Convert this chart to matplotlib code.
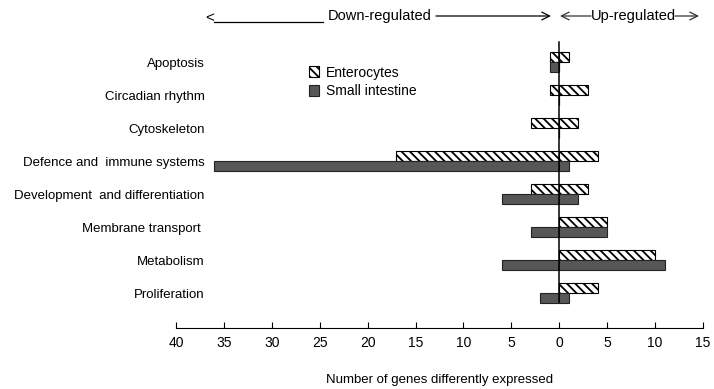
import numpy as np
import matplotlib
matplotlib.use("Agg")
import matplotlib.pyplot as plt
from matplotlib.patches import Patch
from matplotlib.lines import Line2D
from matplotlib.ticker import FuncFormatter

plt.rcParams['font.family'] = ['Liberation Sans', 'DejaVu Sans']
plt.rcParams['hatch.linewidth'] = 1.3

categories = ["Apoptosis", "Circadian rhythm", "Cytoskeleton",
              "Defence and  immune systems", "Development  and differentiation",
              "Membrane transport ", "Metabolism", "Proliferation"]
ent_down = [1, 1, 3, 17, 3, 0, 0, 0]
ent_up = [1, 3, 2, 4, 3, 5, 10, 4]
si_down = [1, 0, 0, 36, 6, 3, 6, 2]
si_up = [0, 0, 0, 1, 2, 5, 11, 1]
xticks = [-40, -35, -30, -25, -20, -15, -10, -5, 0, 5, 10, 15]

fig = plt.figure(figsize=(7.14, 3.89), dpi=100)
ax = fig.add_axes([176/714, 1 - 328/389, (703-176)/714, (328-40)/389])

y = np.arange(len(categories))
h = 0.29
dark = '#575757'
hatch = '\\\\\\\\'

# enterocytes (hatched, upper bar of each pair)
ax.barh(y - h/2, [-v for v in ent_down], height=h, color='white',
        edgecolor='black', hatch=hatch, linewidth=0.8)
ax.barh(y - h/2, ent_up, height=h, color='white',
        edgecolor='black', hatch=hatch, linewidth=0.8)
# small intestine (dark, lower bar)
ax.barh(y + h/2, [-v for v in si_down], height=h, color=dark,
        edgecolor='#222222', linewidth=0.8)
ax.barh(y + h/2, si_up, height=h, color=dark,
        edgecolor='#222222', linewidth=0.8)

ax.plot([0, 0], [-0.6, 7.27], color='black', lw=1.1)

ax.set_xlim(-40, 15)
ax.set_ylim(8.06, -0.667)
ax.set_xticks(xticks)
ax.xaxis.set_major_formatter(FuncFormatter(lambda v, p: f"{abs(int(v))}"))
ax.tick_params(axis='x', direction='in', length=4, labelsize=10, pad=6)
ax.set_yticks([])
for s in ['left', 'right', 'top']:
    ax.spines[s].set_visible(False)
ax.set_xlabel("Number of genes differently expressed", fontsize=9.5, labelpad=17)

for i, c in enumerate(categories):
    ax.text(-37.0, i + 0.06, c, ha='right', va='center', fontsize=9.5)

handles = [Patch(facecolor='white', edgecolor='black', hatch=hatch, linewidth=0.8),
           Patch(facecolor=dark, edgecolor='#222222', linewidth=0.8)]
fig.legend(handles, ["Enterocytes", "Small intestine"], loc='upper left',
           bbox_to_anchor=(296/714, 1 - 53/389), frameon=False, fontsize=10,
           handlelength=0.75, handleheight=0.9, handletextpad=0.5, labelspacing=0.35)

# header arrows
ty = 1 - 16/389
fig.text(380/714, ty, "Down-regulated", ha='center', va='center', fontsize=10.5)
fig.text(210/714, 1 - 18/389, "<", ha='center', va='center', fontsize=11)
fig.add_artist(Line2D([214/714, 323/714], [1 - 22/389, 1 - 22/389], color='black', lw=0.9))
ax.annotate("", xy=(551/714, ty), xytext=(436/714, ty), xycoords='figure fraction',
            arrowprops=dict(arrowstyle='->', lw=0.9, color='black',
                            mutation_scale=14, shrinkA=0, shrinkB=0))
fig.text(633/714, ty, "Up-regulated", ha='center', va='center', fontsize=10.5)
ax.annotate("", xy=(560/714, ty), xytext=(591/714, ty), xycoords='figure fraction',
            arrowprops=dict(arrowstyle='->', lw=0.9, color='#333333',
                            mutation_scale=14, shrinkA=0, shrinkB=0))
ax.annotate("", xy=(699/714, ty), xytext=(675/714, ty), xycoords='figure fraction',
            arrowprops=dict(arrowstyle='->', lw=0.9, color='#333333',
                            mutation_scale=14, shrinkA=0, shrinkB=0))

fig.savefig("out.png", dpi=100)
